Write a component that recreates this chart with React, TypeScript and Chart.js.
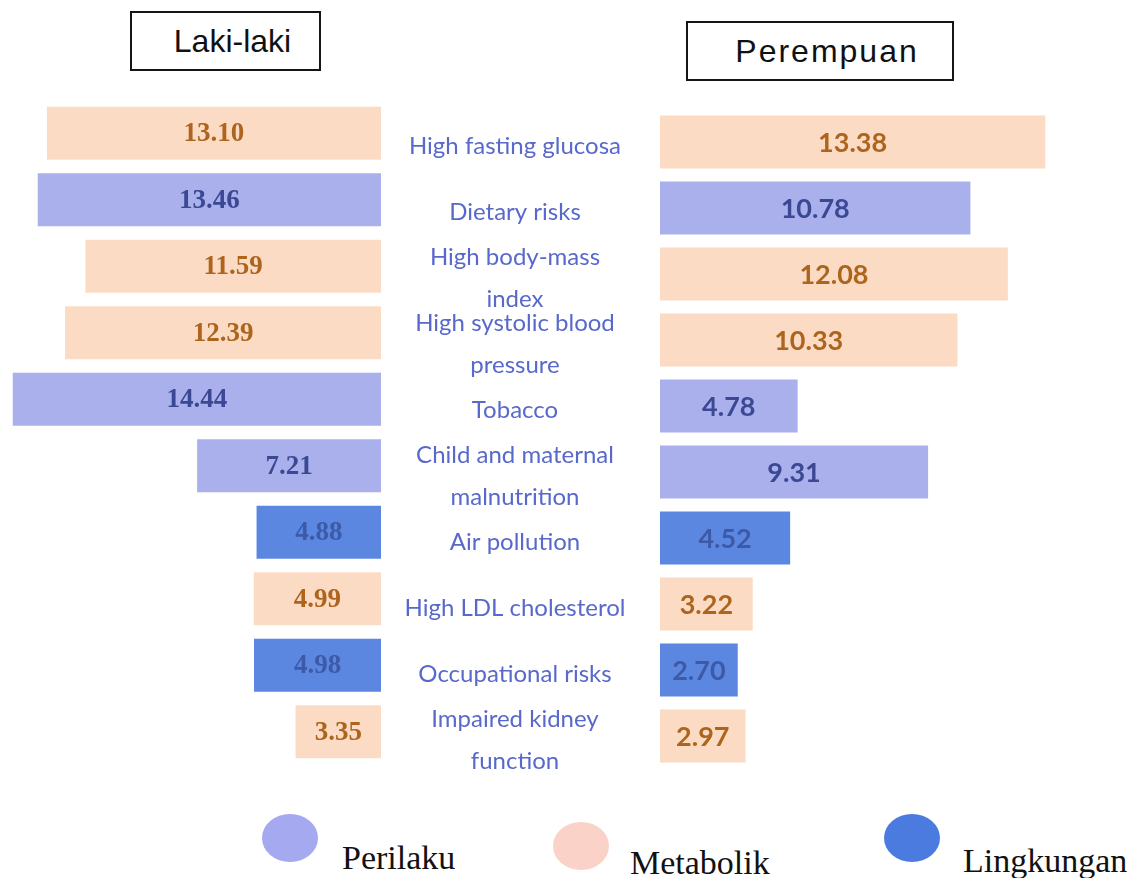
import React, { useEffect, useRef } from "react";
import { Chart, registerables } from "chart.js";

Chart.register(...registerables);

// Risk factors, top to bottom
const CATEGORIES = [
  "High fasting glucosa",
  "Dietary risks",
  "High body-mass\nindex",
  "High systolic blood\npressure",
  "Tobacco",
  "Child and maternal\nmalnutrition",
  "Air pollution",
  "High LDL cholesterol",
  "Occupational risks",
  "Impaired kidney\nfunction",
];

// Risk group of each factor
const GROUPS = [
  "Metabolik",
  "Perilaku",
  "Metabolik",
  "Metabolik",
  "Perilaku",
  "Perilaku",
  "Lingkungan",
  "Metabolik",
  "Lingkungan",
  "Metabolik",
];

const MALE_VALUES = [13.1, 13.46, 11.59, 12.39, 14.44, 7.21, 4.88, 4.99, 4.98, 3.35];
const FEMALE_VALUES = [13.38, 10.78, 12.08, 10.33, 4.78, 9.31, 4.52, 3.22, 2.7, 2.97];

const LEGEND_LABELS = ["Perilaku", "Metabolik", "Lingkungan"];
const PANEL_TITLES = ["Laki-laki", "Perempuan"];

const FILL: Record<string, string> = {
  Perilaku: "#a9b0ec",
  Metabolik: "#fcdbc4",
  Lingkungan: "#5b87e0",
};
const VALUE_INK: Record<string, string> = {
  Perilaku: "#3b4894",
  Metabolik: "#ad641c",
  Lingkungan: "#3c5aa8",
};
const LEGEND_FILL: Record<string, string> = {
  Perilaku: "#a4a9f0",
  Metabolik: "#fbd2c8",
  Lingkungan: "#4c7be0",
};

function valueLabels(font: string) {
  return {
    id: "valueLabels",
    afterDatasetsDraw(chart: any) {
      const ctx = chart.ctx;
      const meta = chart.getDatasetMeta(0);
      const values = chart.data.datasets[0].data as number[];
      ctx.save();
      ctx.font = font;
      ctx.textAlign = "center";
      ctx.textBaseline = "middle";
      meta.data.forEach((bar: any, i: number) => {
        ctx.fillStyle = VALUE_INK[GROUPS[i]];
        ctx.fillText(values[i].toFixed(2), (bar.x + bar.base) / 2, bar.y + 1);
      });
      ctx.restore();
    },
  };
}

const categoryLabels = {
  id: "categoryLabels",
  afterDraw(chart: any) {
    const ctx = chart.ctx;
    const y = chart.scales.y;
    ctx.save();
    ctx.font = '24px "Lato", "Open Sans", sans-serif';
    ctx.fillStyle = "#5869cb";
    ctx.textAlign = "center";
    ctx.textBaseline = "middle";
    const lineHeight = 42;
    CATEGORIES.forEach((cat, i) => {
      const lines = cat.split("\n");
      const cy = y.getPixelForValue(i) + 4;
      lines.forEach((ln, j) => {
        ctx.fillText(ln, 130, cy + (j - (lines.length - 1) / 2) * lineHeight);
      });
    });
    ctx.restore();
  },
};

function barOptions(max: number, reverse: boolean, padLeft: number) {
  return {
    indexAxis: "y" as const,
    responsive: false,
    maintainAspectRatio: false,
    animation: false as const,
    layout: { padding: { left: padLeft, right: 0, top: 0, bottom: 0 } },
    plugins: { legend: { display: false }, tooltip: { enabled: false } },
    scales: {
      x: { type: "linear" as const, min: 0, max, reverse, display: false },
      y: { type: "category" as const, display: false, offset: true },
    },
  };
}

export default function App() {
  const leftRef = useRef<HTMLCanvasElement>(null);
  const rightRef = useRef<HTMLCanvasElement>(null);

  useEffect(() => {
    const left = new Chart(leftRef.current!, {
      type: "bar",
      data: {
        labels: CATEGORIES,
        datasets: [
          {
            data: MALE_VALUES,
            backgroundColor: GROUPS.map((g) => FILL[g]),
            borderWidth: 0,
            barPercentage: 1,
            categoryPercentage: 0.8,
          },
        ],
      },
      options: barOptions(14.94, true, 0),
      plugins: [valueLabels('bold 27px "Liberation Serif", serif')],
    });
    const right = new Chart(rightRef.current!, {
      type: "bar",
      data: {
        labels: CATEGORIES,
        datasets: [
          {
            data: FEMALE_VALUES,
            backgroundColor: GROUPS.map((g) => FILL[g]),
            borderWidth: 0,
            barPercentage: 1,
            categoryPercentage: 0.8,
          },
        ],
      },
      options: barOptions(16.6, false, 275),
      plugins: [valueLabels('bold 27px "Lato", sans-serif'), categoryLabels],
    });
    return () => {
      left.destroy();
      right.destroy();
    };
  }, []);

  const titleBox: React.CSSProperties = {
    position: "absolute",
    border: "2px solid #151515",
    boxSizing: "border-box",
    fontFamily: '"Liberation Sans", Arial, sans-serif',
    fontSize: 32,
    color: "#111",
    display: "flex",
    alignItems: "center",
    justifyContent: "center",
  };

  const legendPos = [
    { cx: 290, cy: 838, tx: 342, ty: 840 },
    { cx: 581, cy: 846, tx: 630, ty: 845 },
    { cx: 912, cy: 838, tx: 963, ty: 843 },
  ];

  return (
    <div style={{ position: "absolute", left: 0, top: 0, width: 1138, height: 878, background: "#fff", overflow: "hidden" }}>
      <div style={{ ...titleBox, left: 130, top: 11, width: 191, height: 60, paddingLeft: 14 }}>{PANEL_TITLES[0]}</div>
      <div style={{ ...titleBox, left: 686, top: 21, width: 268, height: 60, letterSpacing: 2, paddingLeft: 14 }}>{PANEL_TITLES[1]}</div>
      <canvas ref={leftRef} width={381} height={665} style={{ position: "absolute", left: 0, top: 100 }} />
      <canvas ref={rightRef} width={753} height={660} style={{ position: "absolute", left: 385, top: 109 }} />
      {LEGEND_LABELS.map((name, i) => (
        <React.Fragment key={name}>
          <div
            style={{
              position: "absolute",
              left: legendPos[i].cx - 28,
              top: legendPos[i].cy - 24,
              width: 56,
              height: 48,
              borderRadius: "50%",
              background: LEGEND_FILL[name],
            }}
          />
          <div
            style={{
              position: "absolute",
              left: legendPos[i].tx,
              top: legendPos[i].ty,
              fontFamily: '"Liberation Serif", "Times New Roman", serif',
              fontSize: 34,
              lineHeight: "36px",
              color: "#111",
              whiteSpace: "nowrap",
            }}
          >
            {name}
          </div>
        </React.Fragment>
      ))}
    </div>
  );
}
